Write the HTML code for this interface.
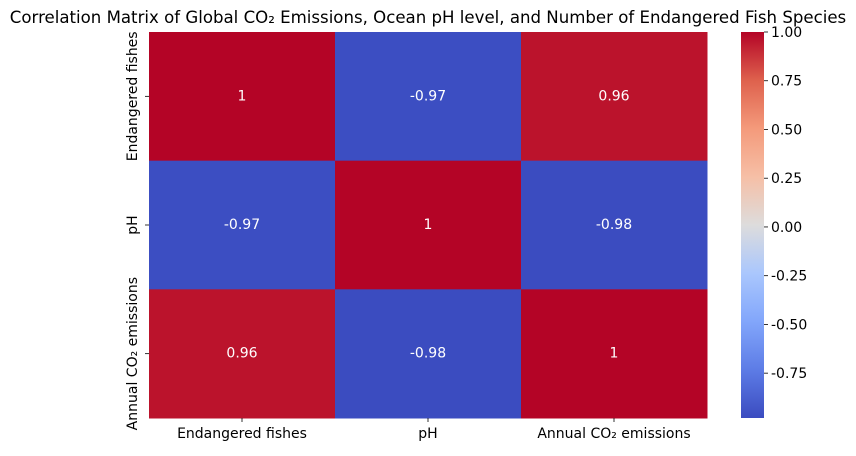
<!DOCTYPE html>
<html><head><meta charset="utf-8"><style>
body{margin:0;background:#fff;}
svg text{font-family:"DejaVu Sans","Liberation Sans",sans-serif;}
</style></head><body>
<svg width="856" height="451" viewBox="0 0 856 451" xmlns="http://www.w3.org/2000/svg">
<defs>
<linearGradient id="cw" x1="0" y1="1" x2="0" y2="0">
<stop offset="0" stop-color="#3b4cc0"/><stop offset="0.125" stop-color="#5d7ce6"/><stop offset="0.25" stop-color="#82a6fb"/><stop offset="0.375" stop-color="#aac7fd"/><stop offset="0.5" stop-color="#dddcdc"/><stop offset="0.625" stop-color="#f6bfa6"/><stop offset="0.75" stop-color="#f49a7b"/><stop offset="0.875" stop-color="#de614d"/><stop offset="1" stop-color="#b40426"/>
</linearGradient>
</defs>
<text x="428" y="23" font-size="16.6" text-anchor="middle">Correlation Matrix of Global CO₂ Emissions, Ocean pH level, and Number of Endangered Fish Species</text>
<g id="cells"></g>
<g id="xt"></g><g id="yt"></g>
<rect x="741" y="32" width="23" height="386" fill="url(#cw)"/>
<g id="ct"></g>
</svg>
<script>
const categories = ["Endangered fishes", "pH", "Annual CO₂ emissions"];
const matrix = [[1, -0.97, 0.96], [-0.97, 1, -0.98], [0.96, -0.98, 1]];
const labels = [["1", "-0.97", "0.96"], ["-0.97", "1", "-0.98"], ["0.96", "-0.98", "1"]];
const cbTicks = [1.00, 0.75, 0.50, 0.25, 0.00, -0.25, -0.50, -0.75];
const vmin = -0.98, vmax = 1;

const NS = "http://www.w3.org/2000/svg";
const X0 = 149, X1 = 707, Y0 = 32, Y1 = 418;
const stops = ["#3b4cc0","#5d7ce6","#82a6fb","#aac7fd","#dddcdc","#f6bfa6","#f49a7b","#de614d","#b40426"];
function hex(h){return [1,3,5].map(i=>parseInt(h.substr(i,2),16));}
function color(v){
  let t = Math.max(0, Math.min(1, (v - vmin) / (vmax - vmin))) * (stops.length - 1);
  let i = Math.min(Math.floor(t), stops.length - 2), f = t - i;
  let a = hex(stops[i]), b = hex(stops[i+1]);
  return "rgb(" + a.map((c,k)=>Math.round(c + (b[k]-c)*f)).join(",") + ")";
}
const n = categories.length;
const cw = (X1 - X0) / n, ch = (Y1 - Y0) / n;
function xPos(j){return X0 + j * cw;}
function yPos(i){return Y0 + i * ch;}
function cbY(v){return Y0 + (vmax - v) / (vmax - vmin) * (Y1 - Y0);}
function mk(tag, attrs, parent){
  const e = document.createElementNS(NS, tag);
  for (const k in attrs) e.setAttribute(k, attrs[k]);
  parent.appendChild(e); return e;
}
const cells = document.getElementById("cells");
for (let i = 0; i < n; i++) for (let j = 0; j < n; j++) {
  const r = mk("rect", {x: xPos(j), y: yPos(i), width: cw + 0.5, height: ch + 0.5, fill: color(matrix[i][j])}, cells);
  
  
  const t = mk("text", {x: xPos(j) + cw/2, y: yPos(i) + ch/2 + 4, "font-size": 14, fill: "#fff", "text-anchor": "middle"}, cells);
  t.textContent = labels[i][j];
  
  
}
const xt = document.getElementById("xt"), yt = document.getElementById("yt");
categories.forEach((c, j) => {
  const x = xPos(j) + cw/2;
  mk("line", {x1: x, x2: x, y1: Y1, y2: Y1 + 4, stroke: "#000", "stroke-width": 0.8}, xt);
  const t = mk("text", {x: x, y: Y1 + 20, "font-size": 14, "text-anchor": "middle"}, xt);
  t.textContent = c;
  
  
  const y = yPos(j) + ch/2;
  mk("line", {x1: X0 - 4, x2: X0, y1: y, y2: y, stroke: "#000", "stroke-width": 0.8}, yt);
  const u = mk("text", {x: 0, y: 0, "font-size": 14, "text-anchor": "middle", transform: "translate(" + (X0 - 12) + "," + y + ") rotate(-90)"}, yt);
  u.textContent = c;
  
  
});
const ct = document.getElementById("ct");
cbTicks.forEach(v => {
  const y = cbY(v);
  mk("line", {x1: 764, x2: 768, y1: y, y2: y, stroke: "#000", "stroke-width": 0.8}, ct);
  const t = mk("text", {x: 771, y: y + 5, "font-size": 14}, ct);
  t.textContent = v.toFixed(2);
  
  
});
</script>
</body></html>
